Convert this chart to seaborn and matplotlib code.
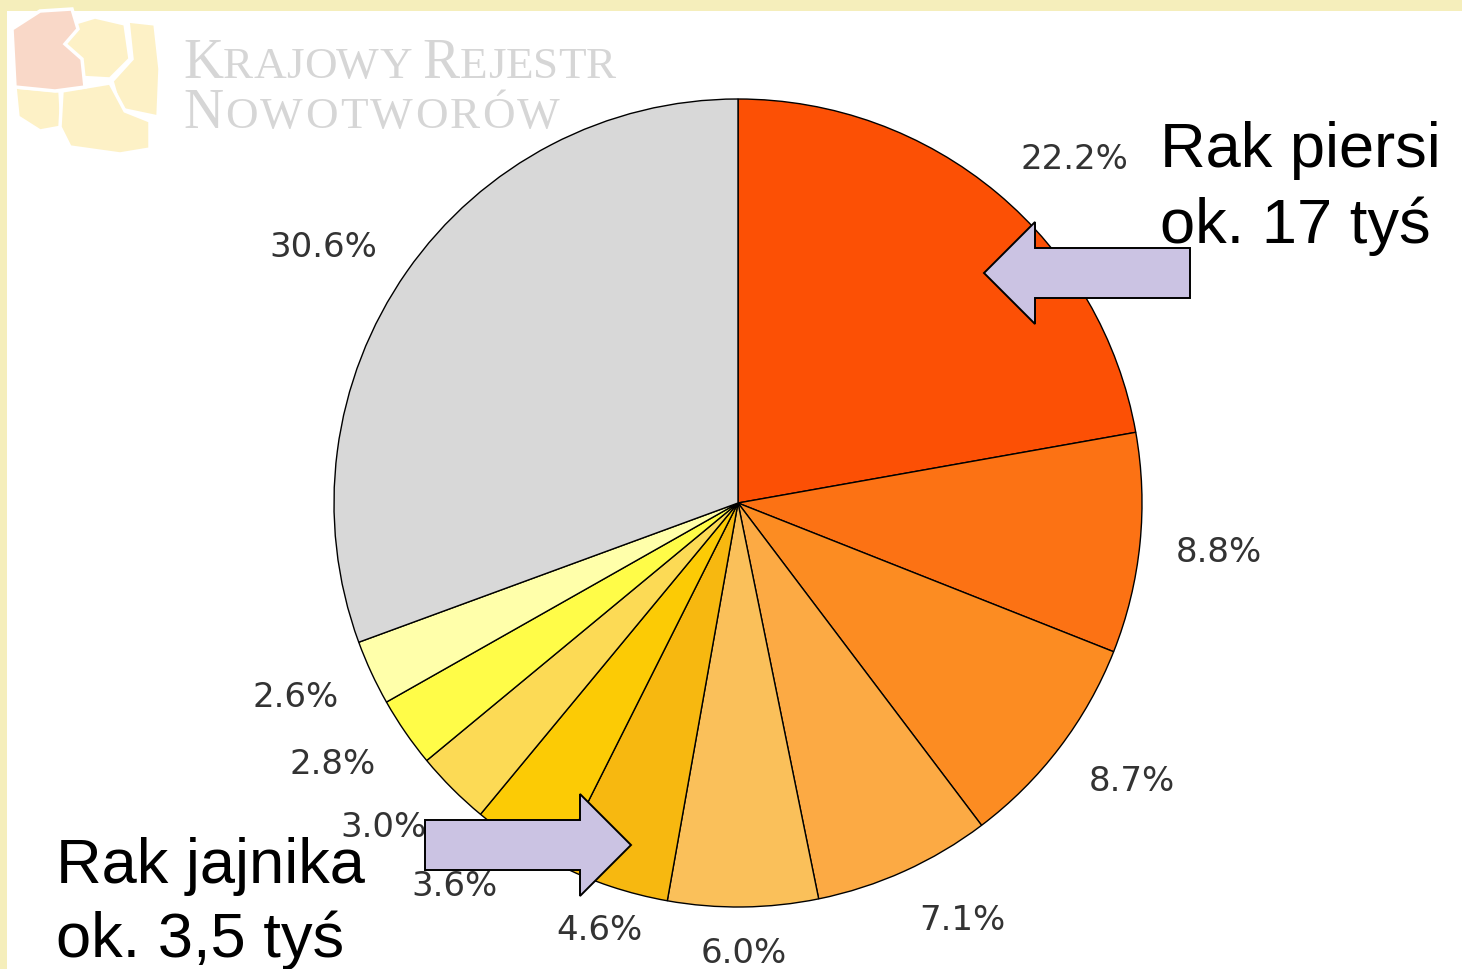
import numpy as np
import matplotlib
matplotlib.use("Agg")
import matplotlib.pyplot as plt
from matplotlib.patches import FancyArrow, Polygon, Rectangle
import seaborn as sns

# Share of cases per cancer site (%), clockwise from 12 o'clock
shares = [22.2, 8.8, 8.7, 7.1, 6.0, 4.6, 3.6, 3.0, 2.8, 2.6, 30.6]
slice_colors = ["#FC5005", "#FC7214", "#FC8C22", "#FCAA44", "#FAC05A",
                "#F7B810", "#FCCB05", "#FCDA55", "#FFFC48", "#FFFFAA", "#D8D8D8"]
pct_labels = [f"{v:.1f}%" for v in shares]

callout_breast = ["Rak piersi", "ok. 17 tyś"]
callout_ovary = ["Rak jajnika", "ok. 3,5 tyś"]
logo_lines = [[("K", True), ("RAJOWY ", False), ("R", True), ("EJESTR", False)],
              [("N", True), ("OWOTWORÓW", False)]]

sns.set_theme(style="white")
plt.rcParams["font.family"] = ["DejaVu Sans"]

W, H, DPI = 1462, 970, 100
fig = plt.figure(figsize=(W / DPI, H / DPI), dpi=DPI, facecolor="#F5EEBB")

# background layer: white slide area + faded logo
bg = fig.add_axes([0, 0, 1, 1], zorder=0)
bg.set_xlim(0, W)
bg.set_ylim(H, 0)
bg.axis("off")
bg.add_patch(Rectangle((7, 12), W - 7, H - 12, facecolor="white", edgecolor="none"))

yellow, pink = "#FDF1C6", "#F9D8C8"
logo_shapes = [
    (yellow, [(62, 28), (95, 18), (125, 25), (130, 60), (110, 80), (75, 78), (62, 55)]),
    (yellow, [(128, 22), (155, 25), (160, 70), (158, 118), (120, 110), (112, 82), (132, 60)]),
    (yellow, [(15, 88), (60, 92), (62, 128), (40, 132), (18, 118)]),
    (yellow, [(62, 92), (110, 84), (125, 112), (150, 122), (150, 150), (120, 155), (70, 148), (60, 128)]),
    (pink, [(12, 30), (40, 12), (72, 10), (78, 30), (65, 45), (82, 60), (85, 88), (55, 92), (15, 88)]),
]
for col, pts in logo_shapes:
    bg.add_patch(Polygon(pts, closed=True, facecolor=col, edgecolor="white", lw=2.5))

renderer = fig.canvas.get_renderer()
logo_col = "#D6D6D6"
# small-caps wordmark, set letter by letter with per-line tracking
for baseline, pieces, track in zip([78, 128], logo_lines, [0.0, 2.2]):
    x = 183
    for txt, big in pieces:
        for ch in txt:
            t = bg.text(x, baseline, ch, fontsize=40 if big else 32.5, color=logo_col,
                        family="Liberation Serif", va="baseline", ha="left")
            x = t.get_window_extent(renderer).x1 + track

# pie layer
R_PX = 404
cx, cy = 738, 504
ax = fig.add_axes([(cx - R_PX) / W, (H - cy - R_PX) / H, 2 * R_PX / W, 2 * R_PX / H], zorder=1)
wedges, texts = ax.pie(
    shares, colors=sns.color_palette(slice_colors), startangle=90, counterclock=False,
    labels=pct_labels, labeldistance=1.09,
    wedgeprops=dict(edgecolor="black", linewidth=1.0),
    textprops=dict(fontsize=24.5, color="#333333"),
)
ax.set_xlim(-1, 1)
ax.set_ylim(-1, 1)
ax.axis("off")

# labels near the bottom are centred on their anchor; each label is nudged
# vertically away from the pie so its digits clear the rim
em_px = 24.5 * DPI / 72
for w, t in zip(wedges, texts):
    a = np.deg2rad((w.theta1 + w.theta2) / 2)
    x, y = t.get_position()
    nudge = 13
    if abs(np.cos(a)) < 0.36:
        t.set_ha("center")
        nudge = 6
    t.set_va("baseline")
    t.set_position((x, y + (nudge * np.sin(a) - 0.365 * em_px) / R_PX))

# overlay layer: callout arrows and captions
ov = fig.add_axes([0, 0, 1, 1], zorder=2)
ov.set_xlim(0, W)
ov.set_ylim(H, 0)
ov.axis("off")
arrow_style = dict(width=50, head_width=102, head_length=51, length_includes_head=True,
                   facecolor="#CBC3E3", edgecolor="black", linewidth=1.4)
ov.add_patch(FancyArrow(1190, 274, -206, 0, **arrow_style))
ov.add_patch(FancyArrow(425, 846, 206, 0, **arrow_style))

cap = dict(fontsize=45.5, color="black", family="Liberation Sans", va="baseline", ha="left")
for line, yb in zip(callout_breast, [167, 243]):
    ov.text(1160, yb, line, **cap)
for line, yb in zip(callout_ovary, [883, 957]):
    ov.text(56, yb, line, **cap)

fig.savefig("out.png", dpi=DPI, facecolor=fig.get_facecolor())
